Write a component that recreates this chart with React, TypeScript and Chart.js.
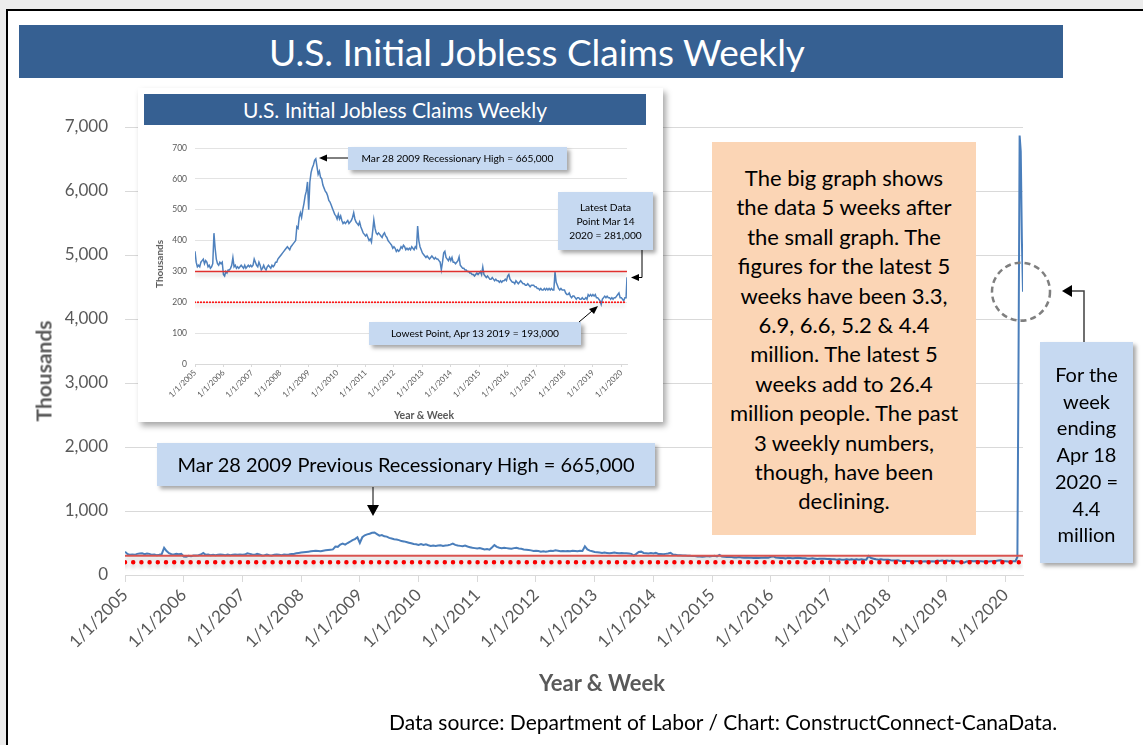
import React, { useEffect, useRef } from "react";
import { Chart, registerables } from "chart.js";

Chart.register(...registerables);

const FONT = "Lato, 'Open Sans', sans-serif";

// ---- tick labels ----
const yearTicks = [2005, 2006, 2007, 2008, 2009, 2010, 2011, 2012, 2013, 2014, 2015, 2016, 2017, 2018, 2019, 2020];
const mainYTicks = [0, 1000, 2000, 3000, 4000, 5000, 6000, 7000];
const insetYTicks = [0, 100, 200, 300, 400, 500, 600, 700];

// ---- weekly initial claims (thousands), read twice a month (1st & 15th) ----
const claims2005 = [365, 330, 315, 320, 315, 330, 335, 340, 325, 335, 330, 315, 320, 310, 315, 325, 424, 375, 340, 325, 320, 330, 325, 330];
const claims2006 = [290, 285, 300, 295, 305, 305, 310, 320, 345, 315, 320, 310, 315, 310, 315, 320, 315, 310, 320, 310, 315, 320, 315, 320];
const claims2007 = [315, 320, 340, 330, 320, 315, 330, 320, 305, 310, 320, 310, 305, 315, 320, 315, 310, 320, 315, 320, 330, 330, 340, 345];
const claims2008 = [350, 355, 360, 365, 370, 375, 380, 375, 370, 380, 385, 390, 395, 400, 445, 440, 475, 490, 475, 500, 520, 545, 560, 590];
const claims2009 = [500, 590, 620, 635, 645, 660, 665, 640, 615, 625, 605, 600, 580, 570, 560, 555, 545, 530, 525, 515, 505, 495, 485, 480];
const claims2010 = [470, 485, 470, 480, 465, 455, 460, 455, 460, 465, 455, 460, 465, 475, 490, 470, 460, 455, 450, 460, 445, 435, 425, 420];
const claims2011 = [415, 420, 410, 400, 405, 395, 430, 467, 440, 425, 420, 425, 420, 415, 410, 420, 425, 415, 410, 400, 395, 390, 385, 375];
const claims2012 = [380, 375, 365, 370, 365, 370, 380, 375, 385, 380, 370, 375, 370, 375, 370, 380, 375, 370, 380, 375, 447, 400, 380, 370];
const claims2013 = [360, 355, 350, 345, 350, 345, 340, 345, 350, 345, 340, 345, 340, 340, 335, 330, 305, 330, 360, 365, 345, 340, 335, 345];
const claims2014 = [335, 345, 330, 330, 325, 330, 335, 347, 320, 315, 310, 310, 305, 305, 300, 300, 295, 295, 290, 290, 285, 290, 295, 290];
const claims2015 = [295, 300, 290, 314, 290, 285, 280, 285, 280, 275, 275, 280, 275, 270, 275, 270, 270, 265, 270, 265, 270, 270, 275, 270];
const claims2016 = [285, 290, 275, 270, 265, 265, 260, 270, 265, 260, 265, 270, 265, 260, 260, 255, 255, 260, 255, 250, 255, 255, 255, 250];
const claims2017 = [250, 245, 245, 240, 245, 240, 240, 245, 240, 245, 240, 245, 240, 245, 240, 240, 298, 265, 255, 245, 240, 245, 240, 240];
const claims2018 = [240, 230, 225, 225, 230, 220, 215, 220, 220, 215, 210, 215, 215, 210, 210, 215, 210, 210, 215, 210, 225, 220, 225, 220];
const claims2019 = [225, 220, 225, 215, 215, 210, 205, 193, 210, 215, 220, 215, 220, 215, 215, 210, 215, 210, 215, 215, 220, 225, 230, 215];
const claims2020 = [215, 210, 205, 215, 215];

const historyYears = [2005, 2006, 2007, 2008, 2009, 2010, 2011, 2012, 2013, 2014, 2015, 2016, 2017, 2018, 2019, 2020];
const historyByYear = [claims2005, claims2006, claims2007, claims2008, claims2009, claims2010, claims2011, claims2012, claims2013, claims2014, claims2015, claims2016, claims2017, claims2018, claims2019, claims2020];

// ---- latest weeks (week ending) ----
const recentWeeks = ["2020-03-14", "2020-03-21", "2020-03-28", "2020-04-04", "2020-04-11", "2020-04-18"];
const recentClaims = [281, 3307, 6867, 6615, 5237, 4427];
const insetLastWeek = "2020-03-14";

// ---- reference lines ----
const oldRecessionLevel = 300;
const lowLevel = 200;

function toYear(d: string): number {
  const [y, m, day] = d.split("-").map(Number);
  const s = Date.UTC(y, 0, 1);
  const e = Date.UTC(y + 1, 0, 1);
  return y + (Date.UTC(y, m - 1, day) - s) / (e - s);
}

const historyPoints = historyYears.flatMap((yr, i) =>
  historyByYear[i].map((v, k) => ({ x: yr + k / 24, y: v }))
);
const recentPoints = recentWeeks.map((d, i) => ({ x: toYear(d), y: recentClaims[i] }));
const mainPoints = [...historyPoints, ...recentPoints];
const insetEnd = toYear(insetLastWeek);
const insetPoints = mainPoints.filter((p) => p.x <= insetEnd + 1e-9);
const xStart = yearTicks[0];
const mainEnd = recentPoints[recentPoints.length - 1].x;

const shadowPlugin = {
  id: "redShadow",
  beforeDatasetDraw(chart: any, args: any) {
    const ctx = chart.ctx;
    ctx.save();
    if (args.index < 2) {
      ctx.shadowColor = "rgba(0,0,0,0.25)";
      ctx.shadowOffsetY = 3;
      ctx.shadowBlur = 4;
    }
  },
  afterDatasetDraw(chart: any) {
    chart.ctx.restore();
  },
};

const circlePlugin = {
  id: "lastCircle",
  afterDatasetsDraw(chart: any) {
    const meta = chart.getDatasetMeta(2);
    const pt = meta.data[meta.data.length - 1];
    if (!pt) return;
    const ctx = chart.ctx;
    ctx.save();
    ctx.beginPath();
    ctx.setLineDash([6, 4]);
    ctx.lineWidth = 2.5;
    ctx.strokeStyle = "#7f7f7f";
    ctx.arc(pt.x - 2, pt.y, 29, 0, Math.PI * 2);
    ctx.stroke();
    ctx.restore();
  },
};

function MainChart() {
  const ref = useRef<HTMLCanvasElement | null>(null);
  useEffect(() => {
    const c = new Chart(ref.current as HTMLCanvasElement, {
      type: "line",
      data: {
        datasets: [
          {
            data: [{ x: xStart, y: oldRecessionLevel }, { x: mainEnd, y: oldRecessionLevel }],
            borderColor: "#d9534f",
            borderWidth: 2,
            pointRadius: 0,
          },
          {
            data: [{ x: xStart, y: lowLevel }, { x: mainEnd, y: lowLevel }],
            borderColor: "#ff0000",
            borderWidth: 4.5,
            borderDash: [0, 8.2],
            borderCapStyle: "round",
            pointRadius: 0,
          },
          {
            data: mainPoints,
            borderColor: "#4a7ebb",
            borderWidth: 2,
            pointRadius: 0,
            tension: 0,
          },
        ],
      },
      options: {
        animation: false,
        responsive: false,
        maintainAspectRatio: false,
        plugins: { legend: { display: false }, tooltip: { enabled: false } },
        layout: { padding: { left: 25, top: 127, right: 120, bottom: 46 } },
        scales: {
          x: {
            type: "linear",
            min: xStart,
            max: mainEnd,
            afterBuildTicks: (s: any) => {
              s.ticks = yearTicks.map((v) => ({ value: v }));
            },
            afterFit: (s: any) => {
              s.height = 124;
            },
            ticks: {
              autoSkip: false,
              minRotation: 45,
              maxRotation: 45,
              padding: 3,
              color: "#595959",
              font: { family: FONT, size: 17 },
              callback: (v: any) => "1/1/" + v,
            },
            grid: { drawOnChartArea: false, color: "#d9d9d9", tickLength: 7 },
            border: { color: "#d9d9d9" },
          },
          y: {
            min: 0,
            max: 7000,
            afterBuildTicks: (s: any) => {
              s.ticks = mainYTicks.map((v) => ({ value: v }));
            },
            afterFit: (s: any) => {
              s.width = 100;
            },
            ticks: {
              padding: 17,
              color: "#595959",
              font: { family: FONT, size: 17 },
              callback: (v: any) => Number(v).toLocaleString("en-US"),
            },
            grid: { color: "#d9d9d9", drawTicks: false },
            border: { display: false },
          },
        },
      } as any,
      plugins: [shadowPlugin, circlePlugin],
    });
    return () => c.destroy();
  }, []);
  return (
    <canvas
      ref={ref}
      width={1143}
      height={745}
      style={{ position: "absolute", left: 0, top: 0, width: 1143, height: 745 }}
    />
  );
}

function InsetChart() {
  const ref = useRef<HTMLCanvasElement | null>(null);
  useEffect(() => {
    const c = new Chart(ref.current as HTMLCanvasElement, {
      type: "line",
      data: {
        datasets: [
          {
            data: [{ x: xStart, y: oldRecessionLevel }, { x: insetEnd, y: oldRecessionLevel }],
            borderColor: "#e0302e",
            borderWidth: 1.5,
            pointRadius: 0,
          },
          {
            data: [{ x: xStart, y: lowLevel }, { x: insetEnd, y: lowLevel }],
            borderColor: "#ff0000",
            borderWidth: 2,
            borderDash: [0, 3],
            borderCapStyle: "round",
            pointRadius: 0,
          },
          {
            data: insetPoints,
            borderColor: "#4f81bd",
            borderWidth: 1.5,
            pointRadius: 0,
            tension: 0,
          },
        ],
      },
      options: {
        animation: false,
        responsive: false,
        maintainAspectRatio: false,
        plugins: { legend: { display: false }, tooltip: { enabled: false } },
        layout: { padding: { left: 10, top: 22, right: 36, bottom: 2 } },
        scales: {
          x: {
            type: "linear",
            min: xStart,
            max: insetEnd,
            afterBuildTicks: (s: any) => {
              s.ticks = yearTicks.map((v) => ({ value: v }));
            },
            afterFit: (s: any) => {
              s.height = 56;
            },
            ticks: {
              autoSkip: false,
              minRotation: 45,
              maxRotation: 45,
              padding: 1,
              color: "#595959",
              font: { family: FONT, size: 8 },
              callback: (v: any) => "1/1/" + v,
            },
            grid: { drawOnChartArea: false, color: "#d9d9d9", tickLength: 3 },
            border: { color: "#d9d9d9" },
          },
          y: {
            min: 0,
            max: 700,
            afterBuildTicks: (s: any) => {
              s.ticks = insetYTicks.map((v) => ({ value: v }));
            },
            afterFit: (s: any) => {
              s.width = 47;
            },
            ticks: {
              padding: 8,
              color: "#595959",
              font: { family: FONT, size: 8.5 },
            },
            grid: { color: "#e3e3e3", drawTicks: false },
            border: { display: false },
          },
        },
      } as any,
      plugins: [shadowPlugin],
    });
    return () => c.destroy();
  }, []);
  return (
    <canvas
      ref={ref}
      width={525}
      height={296}
      style={{ position: "absolute", left: 0, top: 38, width: 525, height: 296 }}
    />
  );
}

const abs = (l: number, t: number, w: number, h: number): React.CSSProperties => ({
  position: "absolute",
  left: l,
  top: t,
  width: w,
  height: h,
  boxSizing: "border-box",
});

const centered = (cx: number, cy: number, size: number, rotate = false): React.CSSProperties => ({
  position: "absolute",
  left: cx,
  top: cy,
  transform: rotate ? "translate(-50%, -50%) rotate(-90deg)" : "translate(-50%, -50%)",
  whiteSpace: "nowrap",
  fontSize: size,
  fontWeight: "bold",
  color: "#595959",
  lineHeight: 1,
});

const noteBox: React.CSSProperties = {
  background: "#c6d9f1",
  boxShadow: "3px 3px 4px rgba(0,0,0,0.35)",
  color: "#000",
  textAlign: "center",
  fontFamily: FONT,
  whiteSpace: "nowrap",
};

const orangeLines = [
  "The big graph shows",
  "the data 5 weeks after",
  "the small graph. The",
  "figures for the latest 5",
  "weeks have been 3.3,",
  "6.9, 6.6, 5.2 & 4.4",
  "million. The latest 5",
  "weeks add to 26.4",
  "million people. The past",
  "3 weekly numbers,",
  "though, have been",
  "declining.",
];
const blueLines = ["For the", "week", "ending", "Apr 18", "2020 =", "4.4", "million"];

export default function App() {
  return (
    <div
      style={{
        position: "absolute",
        left: 0,
        top: 0,
        width: 1143,
        height: 745,
        overflow: "hidden",
        background: "#ececec",
        fontFamily: FONT,
      }}
    >
      <div
        style={{
          ...abs(6, 9, 1160, 760),
          background: "#fff",
          borderLeft: "2px solid #000",
          borderTop: "2px solid #000",
        }}
      />
      {/* main title */}
      <div
        style={{
          ...abs(19, 25, 1044, 53),
          background: "#366092",
          color: "#fff",
          fontSize: 37,
          lineHeight: "53px",
          textAlign: "center",
          paddingRight: 8,
        }}
      >
        U.S. Initial Jobless Claims Weekly
      </div>

      <MainChart />
      <div style={centered(602, 683, 22)}>Year &amp; Week</div>
      <div style={centered(43, 371, 21, true)}>Thousands</div>

      {/* inset panel */}
      <div
        style={{
          ...abs(138, 88, 525, 334),
          background: "#fff",
          boxShadow: "3px 4px 6px rgba(0,0,0,0.35)",
        }}
      >
        <div
          style={{
            ...abs(6, 6, 502, 31),
            background: "#366092",
            color: "#fff",
            fontSize: 21,
            lineHeight: "31px",
            textAlign: "center",
          }}
        >
          U.S. Initial Jobless Claims Weekly
        </div>
        <InsetChart />
      </div>
      <div style={centered(424, 415, 10.5)}>Year &amp; Week</div>
      <div style={centered(158.5, 264, 10, true)}>Thousands</div>

      {/* inset notes */}
      <div style={{ ...abs(348, 147, 219, 23), ...noteBox, fontSize: 10.2, lineHeight: "23px" }}>
        Mar 28 2009 Recessionary High = 665,000
      </div>
      <div style={{ ...abs(558, 192, 95, 58), ...noteBox, fontSize: 10.2, lineHeight: "14px", paddingTop: 8 }}>
        Latest Data
        <br />
        Point Mar 14
        <br />
        2020 = 281,000
      </div>
      <div style={{ ...abs(369, 322, 212, 23), ...noteBox, fontSize: 10.2, lineHeight: "23px" }}>
        Lowest Point, Apr 13 2019 = 193,000
      </div>

      {/* main notes */}
      <div style={{ ...abs(157, 443, 498, 43), ...noteBox, fontSize: 20, lineHeight: "43px" }}>
        Mar 28 2009 Previous Recessionary High = 665,000
      </div>
      <div
        style={{
          ...abs(712, 142, 264, 393),
          background: "#fbd5b5",
          textAlign: "center",
          fontSize: 22,
          lineHeight: "29.4px",
          paddingTop: 21,
          color: "#000",
          whiteSpace: "nowrap",
        }}
      >
        {orangeLines.map((l, i) => (
          <div key={i}>{l}</div>
        ))}
      </div>
      <div style={{ ...abs(1040, 342, 93, 221), ...noteBox, fontSize: 20, lineHeight: "26.7px", paddingTop: 19 }}>
        {blueLines.map((l, i) => (
          <div key={i}>{l}</div>
        ))}
      </div>

      {/* arrows */}
      <svg style={{ position: "absolute", left: 0, top: 0 }} width={1143} height={745}>
        <g stroke="#000" strokeWidth={1} fill="none">
          <line x1={373} y1={487} x2={373} y2={506} />
          <polyline points="1084,342 1084,291 1071,291" stroke="#404040" strokeWidth={1.5} />
          <line x1={348} y1={158} x2={326} y2={158} />
          <polyline points="642,250 642,277.5 638,277.5" />
          <line x1={579} y1={322} x2={592} y2={311} />
        </g>
        <g fill="#000">
          <polygon points="367,505 379,505 373,516" />
          <polygon points="1072,285 1072,297 1062,291" />
          <polygon points="327,154.5 327,161.5 319,158" />
          <polygon points="639,274 639,281 631,277.5" />
          <polygon points="589,309 594,314 598,306" />
        </g>
      </svg>

      <div style={{ ...abs(389, 707, 720, 30), fontSize: 21, lineHeight: "30px", color: "#000", whiteSpace: "nowrap" }}>
        Data source: Department of Labor / Chart: ConstructConnect-CanaData.
      </div>
    </div>
  );
}
